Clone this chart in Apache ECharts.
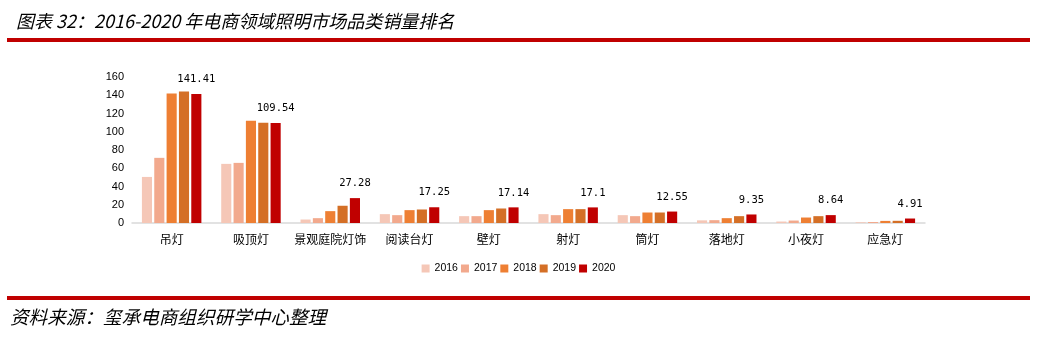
<!DOCTYPE html>
<html>
<head>
<meta charset="utf-8">
<script src="https://cdn.jsdelivr.net/npm/echarts@6/dist/echarts.min.js"></script>
<style>
  html, body { margin: 0; padding: 0; background: #fff; }
  #chart { width: 1037px; height: 343px; }
</style>
</head>
<body>
<div id="chart"></div>
<script>
// Lighting categories ranked by e-commerce sales volume
const categories = ['吊灯', '吸顶灯', '景观庭院灯饰', '阅读台灯', '壁灯', '射灯', '筒灯', '落地灯', '小夜灯', '应急灯'];
const years = ['2016', '2017', '2018', '2019', '2020'];

const sales2016 = [50.5, 64.8, 3.8, 9.7, 7.5, 9.7, 8.6, 2.9, 1.6, 0.8];
const sales2017 = [71.4, 65.9, 5.3, 8.6, 7.5, 8.6, 7.5, 3.1, 2.7, 1.1];
const sales2018 = [141.8, 112.0, 13.0, 14.1, 14.1, 15.2, 11.5, 5.3, 6.0, 2.3];
const sales2019 = [144.0, 109.8, 18.9, 14.8, 15.9, 15.2, 11.5, 7.5, 7.5, 2.4];
const sales2020 = [141.41, 109.54, 27.28, 17.25, 17.14, 17.1, 12.55, 9.35, 8.64, 4.91];

const yTicks = { min: 0, max: 160, interval: 20 };

const seriesData = [sales2016, sales2017, sales2018, sales2019, sales2020];
const colors = ['#F5C7B7', '#F2A98D', '#EE7F33', '#D46F26', '#C00000'];

const chart = echarts.init(document.getElementById('chart'), null, { renderer: 'canvas' });

const series = years.map((y, i) => ({
  name: y,
  type: 'bar',
  data: seriesData[i],
  itemStyle: { color: colors[i] },
  barGap: '22%',
  barCategoryGap: '25%',
  label: i === years.length - 1 ? {
    show: true,
    position: 'top',
    distance: 9,
    color: '#000',
    fontSize: 10.5,
    fontFamily: 'DejaVu Sans Mono'
  } : { show: false }
}));

chart.setOption({
  animation: false,
  backgroundColor: '#fff',
  color: colors,
  grid: { left: 132, right: 112, top: 77, bottom: 120, containLabel: false },
  legend: {
    data: years,
    left: 'center',
    top: 258,
    itemWidth: 8,
    itemHeight: 8,
    itemGap: 3,
    icon: 'rect',
    textStyle: { fontSize: 10.5, color: '#000', fontFamily: 'Liberation Sans' }
  },
  xAxis: {
    type: 'category',
    data: categories,
    axisLine: { lineStyle: { color: '#D9D9D9', width: 1.5 } },
    axisTick: { show: false },
    axisLabel: { color: '#000', fontSize: 12, margin: 10, fontFamily: 'Noto Sans CJK SC', interval: 0 }
  },
  yAxis: {
    type: 'value',
    min: yTicks.min,
    max: yTicks.max,
    interval: yTicks.interval,
    axisLine: { show: false },
    axisTick: { show: false },
    splitLine: { show: false },
    axisLabel: { color: '#000', fontSize: 11, margin: 8, fontFamily: 'Liberation Sans' }
  },
  series: series,
  graphic: [
    {
      type: 'text',
      left: 16,
      top: 12,
      style: {
        text: '图表 32：2016-2020 年电商领域照明市场品类销量排名',
        font: 'italic 18px "Noto Sans CJK SC"',
        fill: '#000'
      }
    },
    {
      type: 'rect',
      shape: { x: 7, y: 38, width: 1023, height: 4 },
      style: { fill: '#C00000' }
    },
    {
      type: 'rect',
      shape: { x: 7, y: 296, width: 1023, height: 4 },
      style: { fill: '#C00000' }
    },
    {
      type: 'text',
      left: 10,
      top: 308,
      style: {
        text: '资料来源：玺承电商组织研学中心整理',
        font: 'italic 18.6px "Noto Sans CJK SC"',
        fill: '#000'
      }
    }
  ]
});
</script>
</body>
</html>
